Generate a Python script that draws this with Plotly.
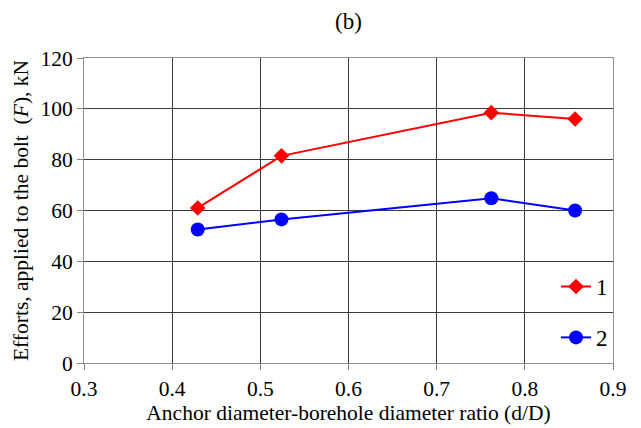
import plotly.graph_objects as go

ratio = [0.429, 0.524, 0.762, 0.857]
series1 = [61, 81.5, 98.5, 96]
series2 = [52.5, 56.5, 64.8, 60]
names = ["1", "2"]

font = "Liberation Serif, Times New Roman, serif"
fs = 21.5

fig = go.Figure()
fig.add_trace(go.Scatter(x=ratio, y=series1, mode="lines+markers", name=names[0],
                         legendgroup="a",
                         line=dict(color="#ff0000", width=2),
                         marker=dict(symbol="diamond", size=12, color="#ff0000")))
fig.add_trace(go.Scatter(x=ratio, y=series2, mode="lines+markers", name=names[1],
                         legendgroup="b",
                         line=dict(color="#0000ff", width=2),
                         marker=dict(symbol="circle", size=14, color="#0000ff")))

# page body has an 8px default margin, so the figure is sized to fit the window
fig.update_layout(
    width=633, height=420,
    margin=dict(l=76, r=28, t=50, b=65),
    paper_bgcolor="white", plot_bgcolor="white",
    font=dict(family=font, size=fs, color="black"),
    title=dict(text="(b)", x=0.5, xref="paper", y=0.97, yanchor="middle",
               font=dict(family=font, size=23, color="black")),
    legend=dict(x=1, xanchor="right", y=0.013, yanchor="bottom",
                bgcolor="rgba(0,0,0,0)", tracegroupgap=18,
                font=dict(family=font, size=23, color="black")),
    xaxis=dict(range=[0.3, 0.9], dtick=0.1, tickformat=".1f", automargin=False,
               showgrid=True, gridcolor="#3a3a3a", gridwidth=1,
               showline=True, linecolor="#909090", mirror=True,
               ticks="outside", ticklen=6, tickcolor="#808080",
               tickfont=dict(family=font, size=fs, color="black"),
               zeroline=False,
               title=dict(text="Anchor diameter-borehole diameter ratio (d/D)", standoff=4,
                          font=dict(family=font, size=fs, color="black"))),
    yaxis=dict(range=[0, 120], dtick=20, automargin=False,
               showgrid=True, gridcolor="#3a3a3a", gridwidth=1,
               showline=True, linecolor="#909090", mirror=True,
               ticks="outside", ticklen=6, tickcolor="#808080",
               tickfont=dict(family=font, size=fs, color="black"),
               zeroline=False,
               title=dict(text="Efforts, applied to the bolt  (<i>F</i>), kN", standoff=5,
                          font=dict(family=font, size=fs, color="black"))),
)

fig.write_html("out.html")
